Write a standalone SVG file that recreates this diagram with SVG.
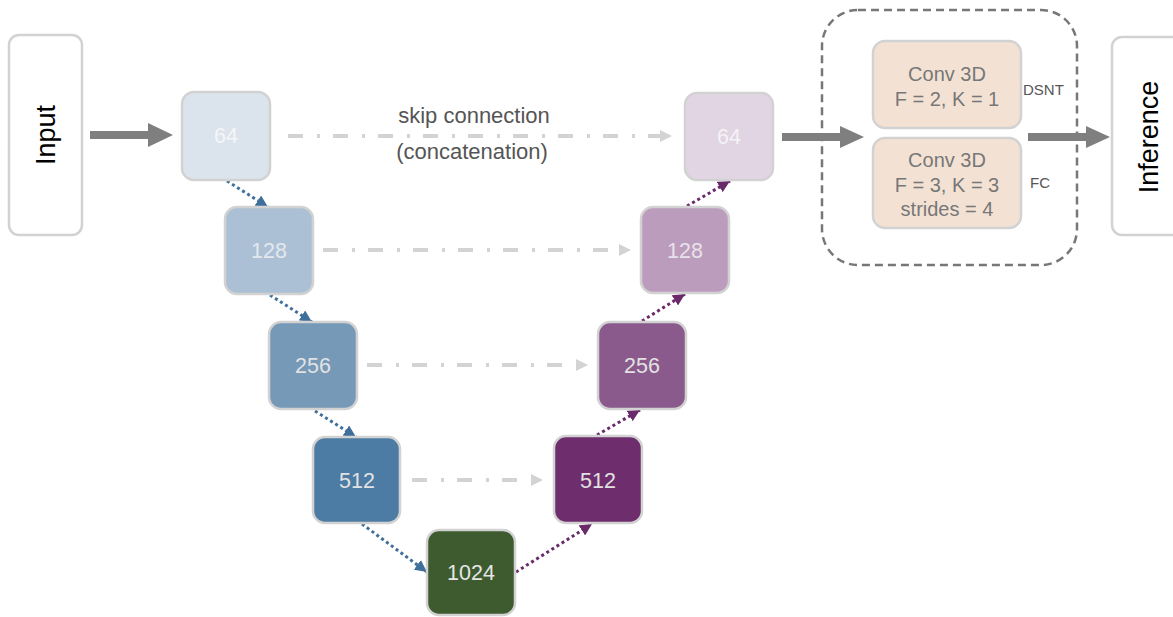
<svg xmlns="http://www.w3.org/2000/svg" width="1173" height="617" viewBox="0 0 1173 617">
<defs>
<style>
.node{stroke:#d2d2d2;stroke-width:2.5}
.lbl{font-family:"Liberation Sans",Arial,sans-serif;font-size:21.5px;text-anchor:middle}
.skip{stroke:#d3d3d3;stroke-width:4;fill:none;stroke-dasharray:15 14 3 13}
.dotb{stroke:#3f6f9a;stroke-width:3;fill:none;stroke-dasharray:3 3}
.dotp{stroke:#6a2a6a;stroke-width:3;fill:none;stroke-dasharray:3 3}
.big{fill:#7f7f7f}
.conv{fill:#f3e2d4;stroke:#d2d2d2;stroke-width:2.5}
.ctext{font-family:"Liberation Sans",Arial,sans-serif;font-size:20px;fill:#777;text-anchor:middle}
.small{font-family:"Liberation Sans",Arial,sans-serif;font-size:15px;fill:#555}
.big-t{font-family:"Liberation Sans",Arial,sans-serif;font-size:27px;fill:#000;text-anchor:middle}
.skipt{font-family:"Liberation Sans",Arial,sans-serif;font-size:22px;fill:#555;text-anchor:middle}
</style>
<marker id="hs" markerUnits="userSpaceOnUse" markerWidth="12" markerHeight="12" refX="12" refY="6" orient="auto"><path d="M0,0 L12,6 L0,12 z" fill="#d3d3d3"/></marker>
<marker id="hb" markerUnits="userSpaceOnUse" markerWidth="12" markerHeight="12" refX="12" refY="6" orient="auto"><path d="M0,0 L12,6 L0,12 z" fill="#3f6f9a"/></marker>
<marker id="hp" markerUnits="userSpaceOnUse" markerWidth="12" markerHeight="12" refX="12" refY="6" orient="auto"><path d="M0,0 L12,6 L0,12 z" fill="#6a2a6a"/></marker>
</defs>
<rect width="1173" height="617" fill="#ffffff"/>

<g id="input">
<rect x="9" y="35" width="73" height="200" rx="10" fill="#fff" stroke="#d2d2d2" stroke-width="2.5"/>
<text class="big-t" transform="translate(55,135) rotate(-90)">Input</text>
</g>

<g id="head-box">
<rect x="822" y="10" width="255" height="255" rx="36" fill="none" stroke="#777" stroke-width="2.5" stroke-dasharray="8 5"/>
</g>

<g id="inference">
<rect x="1112" y="37" width="80" height="198" rx="10" fill="#fff" stroke="#d2d2d2" stroke-width="2.5"/>
<text class="big-t" transform="translate(1158,137) rotate(-90)">Inference</text>
</g>

<g id="connectors">
<polygon class="big" points="90,131 148,131 148,123 173,135 148,147 148,139 90,139"/>
<polygon class="big" points="782,133 840,133 840,126 864,137 840,148 840,141 782,141"/>
<polygon class="big" points="1028,133 1086,133 1086,126 1110,137 1086,148 1086,141 1028,141"/>
<line class="skip" x1="288" y1="136" x2="672" y2="136" marker-end="url(#hs)"/>
<line class="skip" x1="323" y1="250" x2="631" y2="250" marker-end="url(#hs)"/>
<line class="skip" x1="367" y1="365" x2="588" y2="365" marker-end="url(#hs)"/>
<line class="skip" x1="412" y1="480" x2="543" y2="480" marker-end="url(#hs)"/>
<line class="dotb" x1="227" y1="181" x2="268" y2="207" marker-end="url(#hb)"/>
<line class="dotb" x1="270" y1="295" x2="312" y2="322" marker-end="url(#hb)"/>
<line class="dotb" x1="315" y1="411" x2="356" y2="437" marker-end="url(#hb)"/>
<line class="dotb" x1="362" y1="524" x2="427" y2="572" marker-end="url(#hb)"/>
<line class="dotp" x1="516" y1="572" x2="592" y2="524" marker-end="url(#hp)"/>
<line class="dotp" x1="597" y1="435" x2="640" y2="410" marker-end="url(#hp)"/>
<line class="dotp" x1="642" y1="321" x2="685" y2="294" marker-end="url(#hp)"/>
<line class="dotp" x1="687" y1="206" x2="730" y2="181" marker-end="url(#hp)"/>
<text class="skipt" x="474" y="123">skip connection</text>
<text class="skipt" x="472" y="159">(concatenation)</text>
</g>

<g id="enc64"><rect class="node" x="182" y="92" width="88" height="88" rx="12" fill="#dbe3ec"/><text class="lbl" x="226" y="143" fill="#f4f6f8">64</text></g>
<g id="enc128"><rect class="node" x="225" y="207" width="88" height="87" rx="12" fill="#abc0d4"/><text class="lbl" x="269" y="258" fill="#e4e8ee">128</text></g>
<g id="enc256"><rect class="node" x="269" y="322" width="88" height="87" rx="12" fill="#7599b7"/><text class="lbl" x="313" y="373" fill="#e2e2e2">256</text></g>
<g id="enc512"><rect class="node" x="313" y="437" width="87" height="86" rx="12" fill="#4c7ca3"/><text class="lbl" x="357" y="488" fill="#e2e2e2">512</text></g>
<g id="b1024"><rect class="node" x="427" y="530" width="88" height="85" rx="12" fill="#3d5b2e"/><text class="lbl" x="471" y="580" fill="#e6e6e6">1024</text></g>
<g id="dec512"><rect class="node" x="554" y="436" width="88" height="87" rx="12" fill="#6e2e6e"/><text class="lbl" x="598" y="488" fill="#e2e2e2">512</text></g>
<g id="dec256"><rect class="node" x="598" y="322" width="88" height="87" rx="12" fill="#8b5a8d"/><text class="lbl" x="642" y="373" fill="#e2e2e2">256</text></g>
<g id="dec128"><rect class="node" x="641" y="207" width="88" height="86" rx="12" fill="#bc9cbd"/><text class="lbl" x="685" y="258" fill="#e8e2ea">128</text></g>
<g id="dec64"><rect class="node" x="685" y="93" width="88" height="87" rx="12" fill="#e1d5e3"/><text class="lbl" x="729" y="144" fill="#f5f2f6">64</text></g>

<g id="conv1">
<rect class="conv" x="873" y="41" width="148" height="87" rx="12"/>
<text class="ctext" x="947" y="81">Conv 3D</text>
<text class="ctext" x="947" y="106">F = 2, K = 1</text>
</g>
<g id="conv2">
<rect class="conv" x="873" y="138" width="148" height="90" rx="12"/>
<text class="ctext" x="947" y="167">Conv 3D</text>
<text class="ctext" x="947" y="192">F = 3, K = 3</text>
<text class="ctext" x="947" y="216">strides = 4</text>
</g>
<g id="labels">
<text class="small" x="1023" y="95">DSNT</text>
<text class="small" x="1030" y="188">FC</text>
</g>
</svg>
